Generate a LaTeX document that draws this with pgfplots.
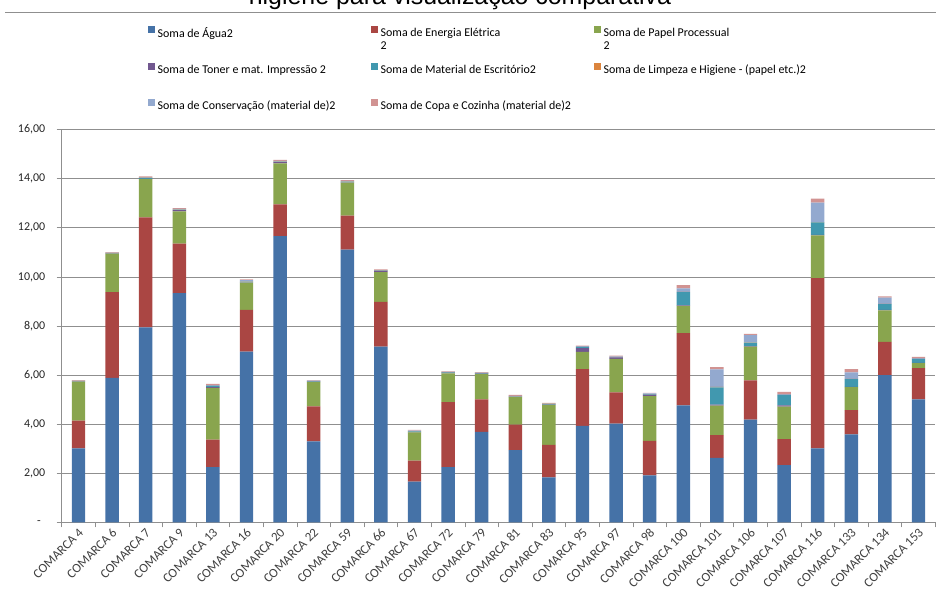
\documentclass[border=0pt]{standalone}
\usepackage{pgfplots}
\pgfplotsset{compat=1.18}
\usepackage{pgfplotstable}
\usepackage{fontspec}
\setmainfont{Carlito}
\newfontfamily\titlefont{Liberation Sans}

\definecolor{cAgua}{HTML}{4572A7}
\definecolor{cEnergia}{HTML}{AA4643}
\definecolor{cPapel}{HTML}{89A54E}
\definecolor{cToner}{HTML}{71588F}
\definecolor{cEscr}{HTML}{4198AF}
\definecolor{cLimp}{HTML}{DB843D}
\definecolor{cCons}{HTML}{93A9CF}
\definecolor{cCopa}{HTML}{D19392}
\definecolor{grade}{HTML}{8F8F8F}
\definecolor{rotulo}{HTML}{404040}

% custo por comarca, um segmento por item de consumo
\pgfplotstableread{
x  agua  energia papel toner escr limp cons copa
0  3.01  1.13  1.59  0.01  0.01  0.01  0.01  0.02
1  5.89  3.49  1.57  0.01  0.01  0.01  0.01  0.02
2  7.94  4.49  1.56  0.01  0.04  0.01  0.02  0.03
3  9.34  2.02  1.31  0.05  0.02  0.01  0.02  0.03
4  2.25  1.12  2.11  0.03  0.04  0.01  0.03  0.05
5  6.96  1.70  1.11  0.01  0.03  0.01  0.05  0.03
6  11.66 1.30  1.67  0.05  0.02  0.01  0.02  0.04
7  3.30  1.42  0.99  0.01  0.02  0.01  0.02  0.02
8  11.11 1.39  1.34  0.01  0.03  0.01  0.02  0.03
9  7.16  1.82  1.22  0.05  0.01  0.01  0.01  0.03
10 1.66  0.85  1.15  0.01  0.04  0.01  0.02  0.03
11 2.25  2.65  1.17  0.02  0.02  0.01  0.01  0.02
12 3.69  1.32  1.03  0.02  0.02  0.01  0.01  0.02
13 2.94  1.04  1.12  0.01  0.01  0.01  0.02  0.04
14 1.83  1.33  1.63  0.01  0.03  0.01  0.01  0.02
15 3.93  2.31  0.71  0.15  0.04  0.01  0.03  0.02
16 4.02  1.27  1.37  0.06  0.01  0.01  0.02  0.03
17 1.91  1.41  1.82  0.05  0.02  0.01  0.03  0.02
18 4.76  2.95  1.11  0.02  0.54  0.01  0.14  0.14
19 2.63  0.92  1.20  0.05  0.70  0.02  0.71  0.09
20 4.18  1.60  1.38  0.02  0.14  0.01  0.30  0.05
21 2.33  1.06  1.32  0.05  0.42  0.01  0.03  0.10
22 3.01  6.94  1.74  0.02  0.51  0.01  0.80  0.16
23 3.58  0.99  0.94  0.01  0.31  0.01  0.27  0.13
24 6.00  1.35  1.29  0.02  0.23  0.01  0.26  0.05
25 5.01  1.27  0.21  0.01  0.15  0.01  0.03  0.05
}\dados

% legend text: every entry takes two lines so that all rows are equally tall
\newcommand{\leg}[2]{\parbox[t]{205bp}{\strut#1\\\strut#2}}

\begin{document}
\begin{tikzpicture}[x=1bp,y=1bp]
\useasboundingbox (0,0) rectangle (936,590);
\node[font=\titlefont\fontsize{25}{30}\selectfont, anchor=base, inner sep=0pt]
  at (460,585) {higiene para visualização comparativa};
\draw[grade, line width=0.8bp] (5,577.7) -- (936,577.7);
\begin{axis}[
  at={(61.7bp,67.7bp)}, anchor=south west,
  scale only axis, width=873.6bp, height=392.6bp,
  ybar stacked, bar width=0.4,
  xmin=-0.5, xmax=25.5, ymin=0, ymax=16,
  xtick={0,...,25},
  xticklabels={COMARCA 4,COMARCA 6,COMARCA 7,COMARCA 9,COMARCA 13,COMARCA 16,
    COMARCA 20,COMARCA 22,COMARCA 59,COMARCA 66,COMARCA 67,COMARCA 72,COMARCA 79,
    COMARCA 81,COMARCA 83,COMARCA 95,COMARCA 97,COMARCA 98,COMARCA 100,COMARCA 101,
    COMARCA 106,COMARCA 107,COMARCA 116,COMARCA 133,COMARCA 134,COMARCA 153},
  minor xtick={-0.5,0.5,...,25.5},
  ytick={0,2,...,16},
  yticklabels={{-\hspace*{4.5bp}},{2,00},{4,00},{6,00},{8,00},{10,00},{12,00},{14,00},{16,00}},
  axis x line*=bottom, axis y line*=left,
  axis line style={grade, line width=0.8bp},
  ymajorgrids, grid style={grade, line width=0.8bp},
  tick align=outside,
  major tick length=5bp, minor tick length=5bp,
  tick style={grade, line width=0.8bp},
  major x tick style={draw=none},
  tick label style={font=\fontsize{12}{14}\selectfont},
  yticklabel style={text=black!85, xshift=-8bp},
  xticklabel style={font=\fontsize{13}{15}\selectfont, rotate=45, anchor=east,
    text=rotulo, xshift=3bp, yshift=-4bp},
  legend columns=3,
  legend cell align=left,
  legend style={at={(axis description cs:0.0982,1.265)}, anchor=north west,
    draw=none, fill=none, inner sep=0pt, row sep=24bp,
    font=\fontsize{12}{13}\selectfont,
    nodes={inner sep=0pt},
    /tikz/every odd column/.append style={column sep=2.5bp},
    /tikz/every even column/.append style={column sep=8bp}},
  legend image code/.code={\fill[#1] (0bp,-0.5bp) rectangle (7.5bp,7bp);},
]
\addplot[fill=cAgua, draw=none] table[x=x, y=agua] {\dados};
\addplot[fill=cEnergia, draw=none] table[x=x, y=energia] {\dados};
\addplot[fill=cPapel, draw=none] table[x=x, y=papel] {\dados};
\addplot[fill=cToner, draw=none] table[x=x, y=toner] {\dados};
\addplot[fill=cEscr, draw=none] table[x=x, y=escr] {\dados};
\addplot[fill=cLimp, draw=none] table[x=x, y=limp] {\dados};
\addplot[fill=cCons, draw=none] table[x=x, y=cons] {\dados};
\addplot[fill=cCopa, draw=none] table[x=x, y=copa] {\dados};
\addlegendentry{\leg{Soma de Água2}{}}
\addlegendentry{\leg{Soma de Energia Elétrica}{2}}
\addlegendentry{\leg{Soma de Papel Processual}{2}}
\addlegendentry{\leg{Soma de Toner e mat. Impressão 2}{}}
\addlegendentry{\leg{Soma de Material de Escritório2}{}}
\addlegendentry{\leg{Soma de Limpeza e Higiene - (papel etc.)2}{}}
\addlegendentry{\leg{Soma de Conservação (material de)2}{}}
\addlegendentry{\leg{Soma de Copa e Cozinha (material de)2}{}}
\end{axis}
\end{tikzpicture}
\end{document}
